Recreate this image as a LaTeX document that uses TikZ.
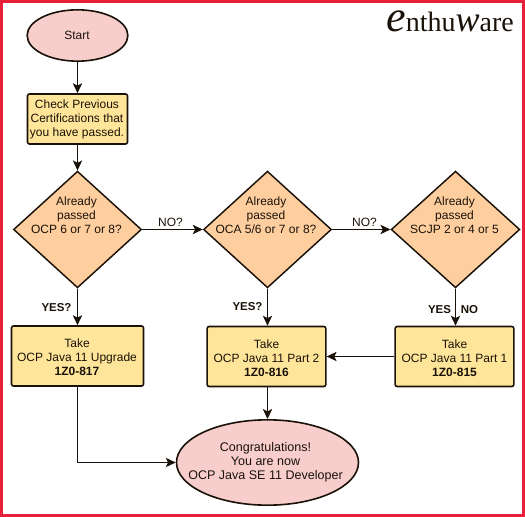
\documentclass[tikz,border=0pt]{standalone}
\usepackage{fontspec}
\setmainfont{Liberation Sans}
\newfontfamily\logofont{Liberation Serif}
\usetikzlibrary{shapes.geometric,arrows.meta}
\definecolor{framered}{HTML}{E8213A}
\definecolor{pinkfill}{HTML}{F8CECC}
\definecolor{yellowfill}{HTML}{FFE599}
\definecolor{orangefill}{HTML}{FFCE9F}
\definecolor{inkc}{HTML}{1A1208}
\tikzset{
  x=0.75pt,y=-0.75pt,
  lbl/.style={font=\fontsize{9}{10.5}\selectfont,text=inkc,align=center,inner sep=0pt},
  boldlbl/.style={font=\fontsize{8.6}{10}\selectfont\bfseries,text=inkc,inner sep=0pt},
  plainlbl/.style={font=\fontsize{9}{10}\selectfont,text=inkc,inner sep=0pt},
  oval/.style={ellipse,draw=inkc,line width=1.2pt,fill=pinkfill,inner sep=0pt},
  stepbox/.style={rectangle,rounded corners=1.5pt,draw=inkc,line width=1.2pt,fill=yellowfill,inner sep=0pt},
  choice/.style={diamond,draw=inkc,line width=1.1pt,fill=orangefill,inner sep=0pt},
  conn/.style={draw=inkc,line width=0.85pt,-{Stealth[length=7.5pt,width=7pt,inset=1.8pt]}},
}
\begin{document}
\begin{tikzpicture}
\useasboundingbox (0,0) rectangle (525,517);
\fill[white] (0,0) rectangle (525,517);
\draw[framered,line width=2.6pt] (1.7,1.7) rectangle (523.3,515.3);

\node[oval,minimum width=75.5pt,minimum height=38.5pt] (start) at (77.5,35.5) {};
\node[lbl] (startt) at (77,35.5) {Start};
\node[stepbox,minimum width=75pt,minimum height=37.5pt] (check) at (77.5,119) {};
\node[lbl] (checkt) at (77,119.5) {Check Previous\\Certifications that\\you have passed.};
\node[choice,minimum width=96pt,minimum height=87.5pt] (d1) at (77.5,229.5) {};
\node[lbl] (d1t) at (76.5,215) {Already\\passed\\OCP 6 or 7 or 8?};
\node[choice,minimum width=96pt,minimum height=87.5pt] (d2) at (267.5,229.5) {};
\node[lbl] (d2t) at (266,215) {Already\\passed\\OCA 5/6 or 7 or 8?};
\node[choice,minimum width=96.5pt,minimum height=87.5pt] (d3) at (455.5,229.5) {};
\node[lbl] (d3t) at (454.5,215) {Already\\passed\\SCJP 2 or 4 or 5};
\node[stepbox,minimum width=99pt,minimum height=45pt] (b1) at (77.5,356) {};
\node[lbl] (b1t) at (77,357) {Take\\OCP Java 11 Upgrade\\\textbf{1Z0-817}};
\node[stepbox,minimum width=89pt,minimum height=45pt] (b2) at (266.5,356.5) {};
\node[lbl] (b2t) at (266.5,358) {Take\\OCP Java 11 Part 2\\\textbf{1Z0-816}};
\node[stepbox,minimum width=89pt,minimum height=45pt] (b3) at (454.5,356.5) {};
\node[lbl] (b3t) at (454.5,358) {Take\\OCP Java 11 Part 1\\\textbf{1Z0-815}};
\node[oval,minimum width=136.5pt,minimum height=64pt] (end) at (267.5,462.5) {};
\node[lbl,font=\fontsize{9.4}{10.5}\selectfont] (endt) at (265.5,462) {Congratulations!\\You are now\\OCP Java SE 11 Developer};

\draw[conn] (start) -- (check);
\draw[conn] (check) -- (d1);
\draw[conn] (d1) -- (b1);
\draw[conn] (d1) -- (d2);
\draw[conn] (d2) -- (d3);
\draw[conn] (d2) -- (d2|-b2.north);
\draw[conn] (d3) -- (d3|-b3.north);
\draw[conn] (b3) -- (b2);
\draw[conn] (b2.south-|end) -- (end);
\draw[conn] (b1) |- (end);

\node[boldlbl] (yes1) at (56.5,308) {YES?};
\node[plainlbl] (no1) at (170.5,222) {NO?};
\node[boldlbl] (yes2) at (247.5,307) {YES?};
\node[plainlbl] (no2) at (364.5,222) {NO?};
\node[boldlbl] (yes3) at (439.5,309.5) {YES};
\node[boldlbl] (no3) at (469.5,309.5) {NO};

\node[inner sep=0pt,anchor=base west,text=inkc] (logo) at (386,32) {\logofont{\fontsize{33}{33}\selectfont\itshape e}{\fontsize{21}{21}\selectfont nthu}{\fontsize{27}{27}\selectfont\itshape w}{\fontsize{21}{21}\selectfont are}};
\end{tikzpicture}
\end{document}
